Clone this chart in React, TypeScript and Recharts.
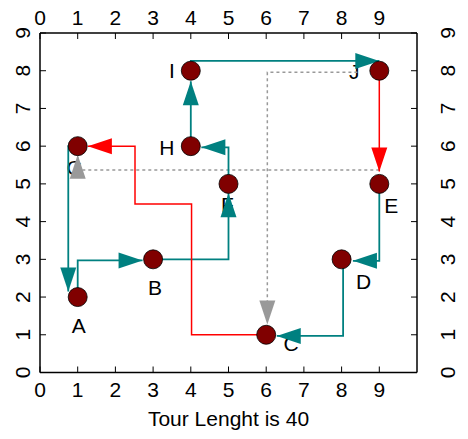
import { ScatterChart, Scatter, XAxis, YAxis } from "recharts";

const xTicks = [0, 1, 2, 3, 4, 5, 6, 7, 8, 9];
const yTicks = [0, 1, 2, 3, 4, 5, 6, 7, 8, 9];

const cities = [
  { name: "A", x: 1, y: 2 },
  { name: "B", x: 3, y: 3 },
  { name: "C", x: 6, y: 1 },
  { name: "D", x: 8, y: 3 },
  { name: "E", x: 9, y: 5 },
  { name: "F", x: 5, y: 5 },
  { name: "G", x: 1, y: 6 },
  { name: "H", x: 4, y: 6 },
  { name: "I", x: 4, y: 8 },
  { name: "J", x: 9, y: 8 },
];

// tour legs, drawn as manhattan polylines
const legGA = [{ x: 1, y: 6 }, { x: 0.75, y: 6 }, { x: 0.75, y: 2.15 }];
const legAB = [{ x: 1, y: 2 }, { x: 1, y: 2.97 }, { x: 2.72, y: 2.97 }];
const legBF = [{ x: 3, y: 3 }, { x: 5, y: 3 }, { x: 5, y: 4.75 }];
const legFH = [{ x: 5, y: 5 }, { x: 5, y: 5.97 }, { x: 4.28, y: 5.97 }];
const legHI = [{ x: 4, y: 6 }, { x: 4, y: 7.72 }];
const legIJ = [{ x: 4, y: 8 }, { x: 4, y: 8.26 }, { x: 9, y: 8.26 }];
const legED = [{ x: 9, y: 5 }, { x: 9, y: 2.96 }, { x: 8.3, y: 2.96 }];
const legDC = [{ x: 8.04, y: 3 }, { x: 8.04, y: 0.97 }, { x: 6.28, y: 0.97 }];
const legCG = [
  { x: 6, y: 1 },
  { x: 4.02, y: 1 },
  { x: 4.02, y: 4.47 },
  { x: 2.52, y: 4.47 },
  { x: 2.52, y: 6 },
  { x: 1.27, y: 6 },
];
const legJE = [{ x: 9, y: 8 }, { x: 9, y: 5.33 }];
const dashJC = [{ x: 8.42, y: 7.96 }, { x: 6.03, y: 7.96 }, { x: 6.03, y: 1.27 }];
const dashEG = [{ x: 9, y: 5.37 }, { x: 1, y: 5.37 }, { x: 1, y: 5.77 }];

const tourLength = 40;

// label offsets in px (dx, dy) from each city
const labelOffset: Record<string, [number, number]> = {
  A: [1, 28],
  B: [2, 28],
  C: [25, 9],
  D: [22, 22],
  E: [12, 22],
  F: [-1, 21],
  G: [-3, 21],
  H: [-24, 1],
  I: [-19, 0],
  J: [-25, 1],
};

const FONT = "'Liberation Sans', Arial, sans-serif";
const TEAL = "#008080";
const RED = "#ff0000";
const GREY = "#999999";

const BottomTick = ({ x, y, payload }: any) => (
  <g>
    <line x1={x} x2={x} y1={y} y2={y - 6} stroke="#000" />
    <text x={x} y={y + 24.5} textAnchor="middle" fontSize={21} fontFamily={FONT} fill="#000">
      {payload.value}
    </text>
  </g>
);

const TopTick = ({ x, y, payload }: any) => (
  <g>
    <line x1={x} x2={x} y1={y} y2={y + 6} stroke="#000" />
    <text x={x} y={y - 8} textAnchor="middle" fontSize={21} fontFamily={FONT} fill="#000">
      {payload.value}
    </text>
  </g>
);

const LeftTick = ({ x, y, payload }: any) => (
  <g>
    <line x1={x} x2={x + 6} y1={y} y2={y} stroke="#000" />
    <text
      x={x - 18}
      y={y}
      dy="0.36em"
      textAnchor="middle"
      fontSize={21}
      fontFamily={FONT}
      fill="#000"
      transform={`rotate(-90, ${x - 18}, ${y})`}
    >
      {payload.value}
    </text>
  </g>
);

const RightTick = ({ x, y, payload }: any) => (
  <g>
    <line x1={x} x2={x - 6} y1={y} y2={y} stroke="#000" />
    <text
      x={x + 30}
      y={y}
      dy="0.36em"
      textAnchor="middle"
      fontSize={21}
      fontFamily={FONT}
      fill="#000"
      transform={`rotate(-90, ${x + 30}, ${y})`}
    >
      {payload.value}
    </text>
  </g>
);

// arrow head on the last point of a leg, pointing along the last segment
const makeArrow = (pts: { x: number; y: number }[], color: string) => (props: any) => {
  const { cx, cy, payload } = props;
  const n = pts.length;
  const last = pts[n - 1];
  const prev = pts[n - 2];
  if (!payload || payload.x !== last.x || payload.y !== last.y) return <g />;
  const dx = last.x - prev.x;
  const dy = last.y - prev.y;
  let ux = 0;
  let uy = 0;
  if (Math.abs(dx) > Math.abs(dy)) ux = Math.sign(dx);
  else uy = -Math.sign(dy);
  const L = 24;
  const W = 8;
  const bx = cx - ux * L;
  const by = cy - uy * L;
  const px = -uy;
  const py = ux;
  const d = `M${cx},${cy} L${bx + px * W},${by + py * W} L${bx - px * W},${by - py * W} Z`;
  return <path d={d} fill={color} stroke="none" />;
};

const CityDot = ({ cx, cy }: any) => (
  <circle cx={cx} cy={cy} r={9.5} fill="#800000" stroke="#000" strokeWidth={0.8} />
);

const CityLabel = ({ cx, cy, payload }: any) => {
  const [dx, dy] = labelOffset[payload.name] || [0, 0];
  return (
    <text x={cx + dx} y={cy + dy} dy="0.36em" textAnchor="middle" fontSize={21} fontFamily={FONT} fill="#000">
      {payload.name}
    </text>
  );
};

const teal = [legGA, legAB, legBF, legFH, legHI, legIJ, legED, legDC];
const red = [legCG, legJE];
const grey = [dashJC, dashEG];

export default function App() {
  return (
    <div style={{ position: "absolute", left: 0, top: 0, width: 468, height: 439, background: "#fff" }}>
      <ScatterChart width={468} height={439} margin={{ top: 0, right: 11, bottom: 26.5, left: 0 }}>
        <XAxis
          xAxisId="b"
          type="number"
          dataKey="x"
          orientation="bottom"
          domain={[0, 10]}
          ticks={xTicks}
          interval={0}
          allowDataOverflow
          height={40}
          tickSize={0}
          tickMargin={0}
          tickLine={false}
          axisLine={{ stroke: "#000", strokeWidth: 1.5 }}
          tick={<BottomTick />}
        />
        <XAxis
          xAxisId="t"
          type="number"
          dataKey="x"
          orientation="top"
          domain={[0, 10]}
          ticks={xTicks}
          interval={0}
          allowDataOverflow
          height={33}
          tickSize={0}
          tickMargin={0}
          tickLine={false}
          axisLine={{ stroke: "#000", strokeWidth: 1.5 }}
          tick={<TopTick />}
        />
        <YAxis
          yAxisId="l"
          type="number"
          dataKey="y"
          orientation="left"
          domain={[0, 9]}
          ticks={yTicks}
          interval={0}
          allowDataOverflow
          width={40}
          tickSize={0}
          tickMargin={0}
          tickLine={false}
          axisLine={{ stroke: "#000", strokeWidth: 1.5 }}
          tick={<LeftTick />}
        />
        <YAxis
          yAxisId="r"
          type="number"
          dataKey="y"
          orientation="right"
          domain={[0, 9]}
          ticks={yTicks}
          interval={0}
          allowDataOverflow
          width={40}
          tickSize={0}
          tickMargin={0}
          tickLine={false}
          axisLine={{ stroke: "#000", strokeWidth: 1.5 }}
          tick={<RightTick />}
        />
        <Scatter xAxisId="t" yAxisId="r" data={cities} shape={() => <g />} isAnimationActive={false} />
        <Scatter xAxisId="b" yAxisId="l" data={cities} shape={<CityLabel />} isAnimationActive={false} />
        {grey.map((pts, i) => (
          <Scatter
            key={`g${i}`}
            xAxisId="b"
            yAxisId="l"
            data={pts}
            line={{ stroke: GREY, strokeWidth: 1.5, strokeDasharray: "3 3" }}
            shape={makeArrow(pts, GREY)}
            isAnimationActive={false}
          />
        ))}
        {teal.map((pts, i) => (
          <Scatter
            key={`t${i}`}
            xAxisId="b"
            yAxisId="l"
            data={pts}
            line={{ stroke: TEAL, strokeWidth: 1.8 }}
            shape={makeArrow(pts, TEAL)}
            isAnimationActive={false}
          />
        ))}
        {red.map((pts, i) => (
          <Scatter
            key={`r${i}`}
            xAxisId="b"
            yAxisId="l"
            data={pts}
            line={{ stroke: RED, strokeWidth: 1.5 }}
            shape={makeArrow(pts, RED)}
            isAnimationActive={false}
          />
        ))}
        <Scatter xAxisId="b" yAxisId="l" data={cities} shape={<CityDot />} isAnimationActive={false} />
      </ScatterChart>
      <div
        style={{
          position: "absolute",
          left: 40,
          width: 377,
          top: 407,
          textAlign: "center",
          fontFamily: FONT,
          fontSize: 21,
          lineHeight: "24px",
          color: "#000",
        }}
      >
        Tour Lenght is {tourLength}
      </div>
    </div>
  );
}
